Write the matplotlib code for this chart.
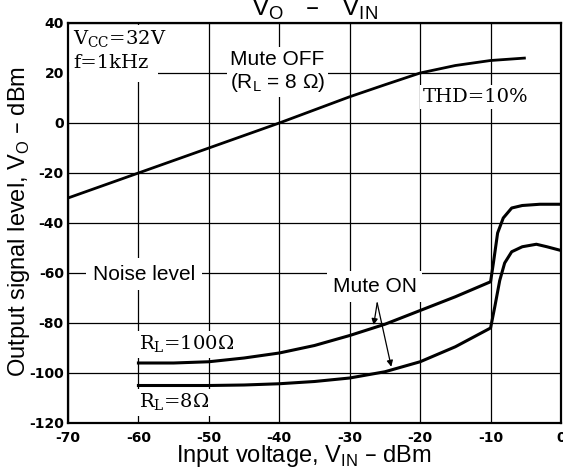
import matplotlib
matplotlib.use('Agg')
import matplotlib.pyplot as plt

# Mute OFF (RL = 8 ohm)
vin_off = [-70, -60, -50, -40, -30, -25, -20, -15, -10, -5]
vo_off = [-30, -20, -10, 0, 10.5, 15.3, 20, 23, 25, 26]

# Mute ON, RL = 100 ohm
vin_100 = [-60, -55, -50, -45, -40, -35, -30, -25, -20, -15, -10, -9.6, -9.0, -8.2, -7, -5.5, -3, 0]
vo_100 = [-96, -96, -95.5, -94, -92, -89, -85, -80.5, -75, -69.5, -63.5, -56, -44, -38, -34, -33, -32.5, -32.5]

# Mute ON, RL = 8 ohm
vin_8 = [-60, -50, -45, -40, -35, -30, -25, -20, -15, -10, -9.4, -8.7, -8.0, -7, -5.5, -3.5, -2, 0]
vo_8 = [-105, -105, -104.8, -104.3, -103.4, -102, -99.5, -95.5, -89.5, -82, -73.5, -63, -56, -51.5, -49.5, -48.5, -49.5, -51]

xticks = [-70, -60, -50, -40, -30, -20, -10, 0]
yticks = [-120, -100, -80, -60, -40, -20, 0, 20, 40]

SANS = 'Liberation Sans'
SERIF = 'DejaVu Serif'

fig = plt.figure(figsize=(5.63, 4.70), dpi=100)
ax = fig.add_axes([68/563, 47/470, 493/563, 400/470])

ax.plot(vin_off, vo_off, color='black', lw=2.0, solid_capstyle='butt')
ax.plot(vin_100, vo_100, color='black', lw=2.2)
ax.plot(vin_8, vo_8, color='black', lw=2.2)

ax.set_xlim(-70, 0)
ax.set_ylim(-120, 40)
ax.set_xticks(xticks)
ax.set_yticks(yticks)
ax.set_xticklabels([str(v) for v in xticks], fontfamily='DejaVu Sans', fontweight='bold', fontsize=10)
ax.set_yticklabels([str(v) for v in yticks], fontfamily='DejaVu Sans', fontweight='bold', fontsize=10)
ax.tick_params(length=0, pad=6)
ax.tick_params(axis='y', pad=3)
ax.set_axisbelow(True)
ax.grid(True, color='black', lw=0.9)
for s in ax.spines.values():
    s.set_linewidth(1.6)

box = dict(facecolor='white', edgecolor='none', pad=2)
serif_kw = dict(fontfamily=SERIF, fontsize=14, va='baseline')

ax.text(-69.3, 22, 'f=1kHz', bbox=dict(facecolor='white', edgecolor='none', pad=7),
        zorder=1.4, **serif_kw)
ax.text(-69.3, 31.2, 'V$_\\mathregular{CC}$=32V', bbox=dict(facecolor='white', edgecolor='none', pad=3),
        zorder=1.5, **serif_kw)
ax.text(-47.0, 23.2, 'Mute OFF', fontfamily=SANS, fontsize=15, va='baseline', bbox=box, zorder=1.5)
ax.text(-47.0, 14, '(R$_\\mathregular{L}$ = 8 Ω)', fontfamily=SANS, fontsize=15, va='baseline',
        bbox=box, zorder=1.5)
ax.text(-19.6, 8.4, 'THD=10%', bbox=box, zorder=1.5, **serif_kw)
ax.text(-66.5, -60.4, 'Noise level', fontfamily=SANS, fontsize=15, va='center',
        bbox=dict(facecolor='white', edgecolor='none', pad=5), zorder=1.5)
ax.text(-32.4, -67.6, 'Mute ON', fontfamily=SANS, fontsize=15, va='baseline',
        bbox=dict(facecolor='white', edgecolor='none', pad=4), zorder=1.5)
ax.text(-59.9, -90.8, 'R$_\\mathregular{L}$=100Ω', bbox=box, zorder=1.5, **serif_kw)
ax.text(-59.9, -114, 'R$_\\mathregular{L}$=8Ω', bbox=box, zorder=1.5, **serif_kw)

arrow = dict(arrowstyle='-|>', color='black', lw=0.9, mutation_scale=9, shrinkA=0, shrinkB=0)
ax.annotate('', xy=(-26.6, -80.8), xytext=(-26.1, -72), arrowprops=arrow)
ax.annotate('', xy=(-24.1, -97.5), xytext=(-26.1, -72), arrowprops=arrow)

fig.text(314/563, (470-15)/470, 'V$_\\mathregular{O}$   –   V$_\\mathregular{IN}$', fontfamily=SANS,
         fontsize=19, ha='center', va='baseline')
fig.text(304/563, (470-462)/470, 'Input voltage, V$_\\mathregular{IN}$ – dBm', fontfamily=SANS,
         fontsize=17, ha='center', va='baseline')
fig.text(19/563, 1 - 221/470, 'Output signal level, V$_\\mathregular{O}$ – dBm', fontfamily=SANS,
         fontsize=17, ha='center', va='center', rotation=90)

fig.savefig('out.png', dpi=100)
